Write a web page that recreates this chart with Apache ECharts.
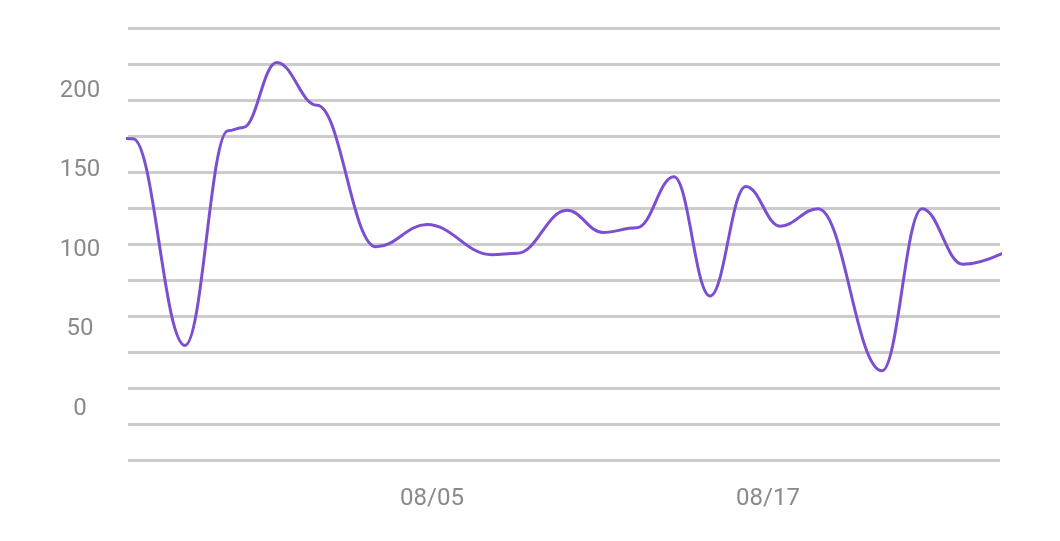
<!DOCTYPE html>
<html>
<head>
<meta charset="utf-8">
<script src="https://cdn.jsdelivr.net/npm/echarts@6/dist/echarts.min.js"></script>
<style>
html,body{margin:0;padding:0;background:#ffffff;}
#chart{width:1060px;height:541px;}
</style>
</head>
<body>
<div id="chart"></div>
<script>
// x positions in days counted from 07/25 (first and last points lie just outside the visible window)
const xDays = [-0.5, 0.32, 2.18, 3.714, 4.25, 5.454, 6.893, 9.0, 10.82, 13.14, 14.04, 15.82, 17.11, 18.32, 19.64, 20.93, 22.21, 23.43, 24.79, 27.07, 28.5, 29.96, 32.61];
const values = [171, 170, 40, 175, 177, 218, 191, 102, 116, 97, 98, 125, 111, 114, 146, 71, 140, 115, 126, 24, 126, 91, 110];
const xTickDays = [11, 23];
const xTickLabels = ['08/05', '08/17'];
const yTickValues = [0, 50, 100, 150, 200];

const chart = echarts.init(document.getElementById('chart'));
const font = 'Roboto, "Noto Sans", sans-serif';
chart.setOption({
  backgroundColor: '#ffffff',
  animation: false,
  grid: { left: 128, right: 60, top: 28, bottom: 81 },
  xAxis: {
    type: 'value',
    min: 0.143, max: 31.286,
    axisLine: { show: false },
    axisTick: { show: false },
    splitLine: { show: false },
    axisLabel: {
      customValues: xTickDays,
      formatter: v => xTickLabels[xTickDays.indexOf(v)] || '',
      color: '#8a8a8a', fontSize: 24, fontFamily: font, margin: 27
    }
  },
  yAxis: [{
    type: 'value',
    min: -32.08, max: 239.62,
    axisLine: { show: false },
    axisTick: { show: false },
    splitLine: { show: false },
    axisLabel: {
      customValues: yTickValues,
      color: '#8a8a8a', fontSize: 24, fontFamily: font, margin: 48, align: 'center'
    }
  }, {
    type: 'value',
    min: 0, max: 12, interval: 1,
    axisLine: { show: false },
    axisTick: { show: false },
    axisLabel: { show: false },
    splitLine: { show: true, lineStyle: { color: '#cccccc', width: 3 } }
  }],
  series: [{
    type: 'line',
    yAxisIndex: 0,
    smooth: 0.4,
    smoothMonotone: 'x',
    clip: true,
    showSymbol: false,
    lineStyle: { color: '#7c4fd0', width: 3 },
    data: xDays.map((d, i) => [d, values[i]])
  }]
});
</script>
</body>
</html>
